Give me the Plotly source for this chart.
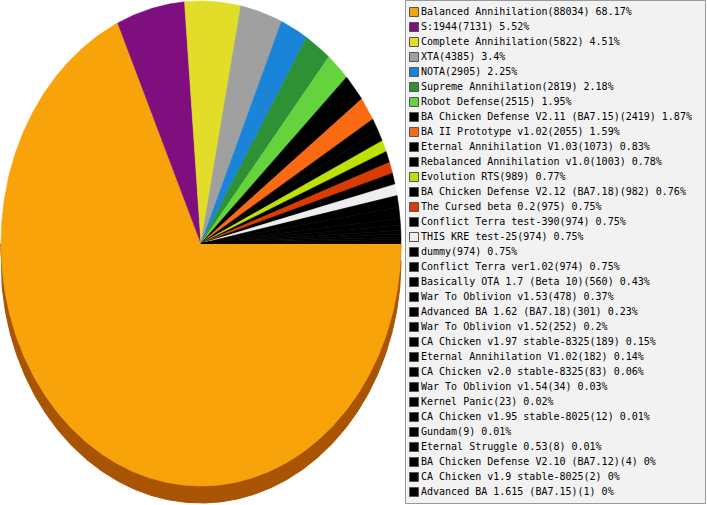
import numpy as np
import plotly.graph_objects as go

# game mods and how many times each was played
mods = [
    "Balanced Annihilation", "S:1944", "Complete Annihilation", "XTA", "NOTA",
    "Supreme Annihilation", "Robot Defense", "BA Chicken Defense V2.11 (BA7.15)",
    "BA II Prototype v1.02", "Eternal Annihilation V1.03", "Rebalanced Annihilation v1.0",
    "Evolution RTS", "BA Chicken Defense V2.12 (BA7.18)", "The Cursed beta 0.2",
    "Conflict Terra test-390", "THIS KRE test-25", "dummy", "Conflict Terra ver1.02",
    "Basically OTA 1.7 (Beta 10)", "War To Oblivion v1.53", "Advanced BA 1.62 (BA7.18)",
    "War To Oblivion v1.52", "CA Chicken v1.97 stable-8325", "Eternal Annihilation V1.02",
    "CA Chicken v2.0 stable-8325", "War To Oblivion v1.54", "Kernel Panic",
    "CA Chicken v1.95 stable-8025", "Gundam", "Eternal Struggle 0.53",
    "BA Chicken Defense V2.10 (BA7.12)", "CA Chicken v1.9 stable-8025",
    "Advanced BA 1.615 (BA7.15)",
]
games = [
    88034, 7131, 5822, 4385, 2905, 2819, 2515, 2419, 2055, 1073, 1003, 989, 982, 975,
    974, 974, 974, 974, 560, 478, 301, 252, 189, 182, 83, 34, 23, 12, 9, 8, 4, 2, 1,
]
colors = [
    "#F8A30A", "#7F0E7E", "#E1DD29", "#A0A0A0", "#1A85D8", "#2F9135", "#64D33D",
    "#000000", "#FA6A13", "#000000", "#000000", "#BCE305", "#000000", "#DB3A00",
    "#000000", "#EEEEEE",
] + ["#000000"] * 17


def darker(hex_color):
    r, g, b = (int(hex_color[i:i + 2], 16) for i in (1, 3, 5))
    return "#%02X%02X%02X" % (int(r * 0.68), int(g * 0.52), int(b * 0.3))


W, H = 707, 505
cx, cy, rx, ry, depth = 201, 243.5, 200, 242.5, 17  # pixels

total = sum(games)
fracs = [g / total for g in games]
starts = np.cumsum([0] + fracs[:-1]) * 2 * np.pi

fig = go.Figure()

# side wall of the "3d" pie (only front half, angles 0..pi clockwise from 3 o'clock)
d = depth / ry
for f, s, c in zip(fracs, starts, colors):
    a0, a1 = max(s, 0), min(s + f * 2 * np.pi, np.pi)
    if a1 <= a0:
        continue
    t = np.linspace(a0, a1, max(2, int((a1 - a0) * 120)))
    xs = np.concatenate([np.cos(t), np.cos(t[::-1])])
    ys = np.concatenate([-np.sin(t), -np.sin(t[::-1]) - d])
    fig.add_trace(go.Scatter(x=xs, y=ys, fill="toself", mode="lines",
                             fillcolor=darker(c), line=dict(color=darker(c), width=1),
                             hoverinfo="skip", showlegend=False))

# top face slices
for name, g, f, s, c in zip(mods, games, fracs, starts, colors):
    t = np.linspace(s, s + f * 2 * np.pi, max(2, int(f * 720) + 2))
    xs = np.concatenate([[0], np.cos(t), [0]])
    ys = np.concatenate([[0], -np.sin(t), [0]])
    fig.add_trace(go.Scatter(x=xs, y=ys, fill="toself", mode="lines",
                             fillcolor=c, line=dict(color=c, width=0.6),
                             name=name, hoverinfo="name", showlegend=False))

# legend entries
labels = ["%s(%d) %s%%" % (m, g, "{:g}".format(round(100 * g / total, 2)))
          for m, g in zip(mods, games)]
idx = list(range(len(mods)))
fig.add_trace(go.Scatter(x=[414] * len(idx), y=idx, mode="markers",
                         marker=dict(symbol="square", size=9, color=colors,
                                     line=dict(color="#555555", width=1)),
                         xaxis="x2", yaxis="y2", hoverinfo="skip", showlegend=False))
fig.add_trace(go.Scatter(x=[421] * len(idx), y=idx, mode="text", text=labels,
                         textposition="middle right",
                         textfont=dict(family="DejaVu Sans Mono", size=10, color="#000000"),
                         xaxis="x2", yaxis="y2", hoverinfo="skip", showlegend=False))

row0, row_h = 12, 15
fig.update_layout(
    width=W, height=H,
    margin=dict(l=0, r=0, t=0, b=0),
    paper_bgcolor="white", plot_bgcolor="white",
    xaxis=dict(domain=[0, 1], range=[-cx / rx, (W - cx) / rx], visible=False, fixedrange=True),
    yaxis=dict(domain=[0, 1], range=[-(H - cy) / ry, cy / ry], visible=False, fixedrange=True),
    xaxis2=dict(domain=[0, 1], range=[0, W], visible=False, anchor="y2", overlaying="x"),
    yaxis2=dict(domain=[0, 1], range=[(H - row0) / row_h, -row0 / row_h], visible=False,
                anchor="x2", overlaying="y"),
    shapes=[dict(type="rect", xref="paper", yref="paper",
                 x0=405.5 / W, x1=705.5 / W, y0=1 - 503.5 / H, y1=1 - 0.5 / H,
                 fillcolor="#F2F2F2", line=dict(color="#999999", width=1), layer="below")],
    showlegend=False,
)

# the page's default body margin would shift the chart by 8px
fig.write_html("out.html", config={"displayModeBar": False},
               post_script="document.body.style.margin='0';")
